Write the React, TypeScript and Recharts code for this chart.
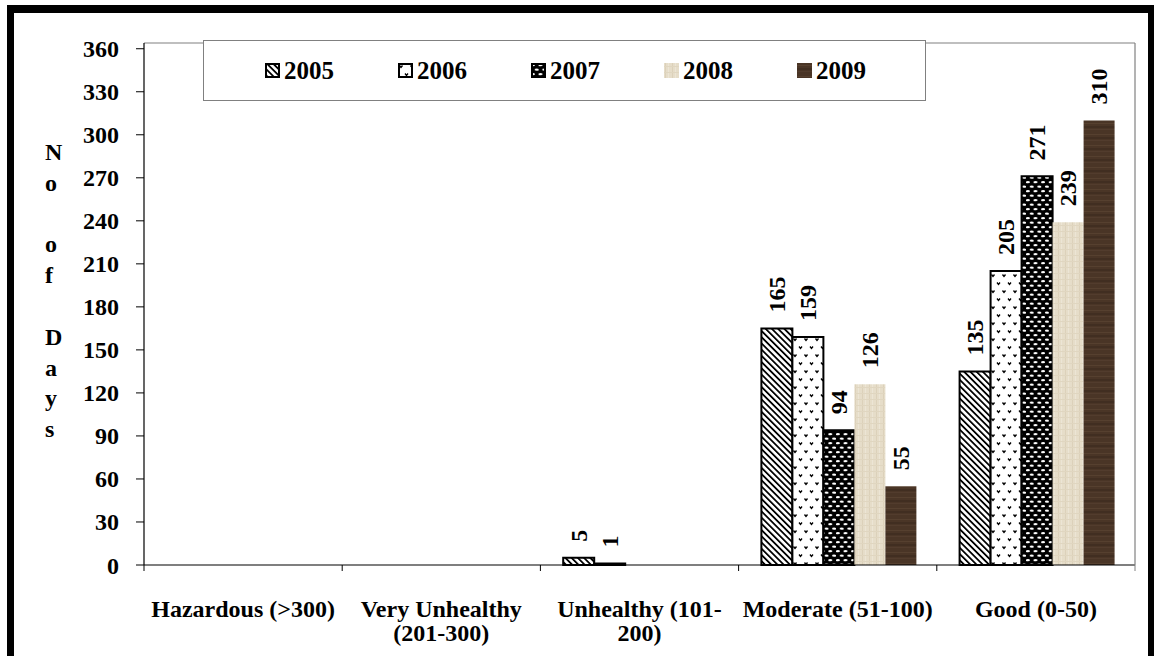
import React from 'react';
import { BarChart, Bar, XAxis, YAxis, LabelList } from 'recharts';

const categories = [
  'Hazardous (>300)',
  'Very Unhealthy\n(201-300)',
  'Unhealthy (101-\n200)',
  'Moderate (51-100)',
  'Good (0-50)',
];
const years = ['2005', '2006', '2007', '2008', '2009'];
const v2005 = [0, 0, 5, 165, 135];
const v2006 = [0, 0, 1, 159, 205];
const v2007 = [0, 0, 0, 94, 271];
const v2008 = [0, 0, 0, 126, 239];
const v2009 = [0, 0, 0, 55, 310];
const yTicks = [0, 30, 60, 90, 120, 150, 180, 210, 240, 270, 300, 330, 360];
const yLabelLetters = ['N', 'o', '', 'o', 'f', '', 'D', 'a', 'y', 's'];

const seriesValues = [v2005, v2006, v2007, v2008, v2009];
const data = categories.map((c, i) => {
  const row: Record<string, any> = { cat: c };
  years.forEach((y, k) => (row['y' + y] = seriesValues[k][i]));
  return row;
});

const W = 1154;
const H = 656;
const PLOT_LEFT = 144;
const PLOT_RIGHT = 1135;
const BAND = (PLOT_RIGHT - PLOT_LEFT) / categories.length;
const FONT = "'Liberation Serif', 'Times New Roman', serif";

const stroked: Record<string, boolean> = { '2005': true, '2006': true, '2007': true, '2008': false, '2009': false };

const Patterns = () => (
  <svg width={0} height={0} style={{ position: 'absolute' }}>
    <defs>
      <pattern id="p2005" width="4.4" height="4.4" patternUnits="userSpaceOnUse" patternTransform="rotate(-45)">
        <rect width="4.4" height="4.4" fill="#fff" />
        <rect width="1.8" height="4.4" fill="#000" />
      </pattern>
      <pattern id="p2006" width="11" height="16" patternUnits="userSpaceOnUse">
        <rect width="11" height="16" fill="#fff" />
        <path d="M1.5,2.5 L3,4.5 L4.5,2.5" stroke="#000" strokeWidth="1.3" fill="none" />
        <path d="M7,10.5 L8.5,12.5 L10,10.5" stroke="#000" strokeWidth="1.3" fill="none" />
      </pattern>
      <pattern id="p2007" width="7.6" height="9" patternUnits="userSpaceOnUse">
        <rect width="7.6" height="9" fill="#000" />
        <ellipse cx="1.9" cy="2.2" rx="2" ry="1.1" fill="#fff" />
        <ellipse cx="5.7" cy="6.7" rx="2" ry="1.1" fill="#fff" />
      </pattern>
      <pattern id="p2008" width="7" height="6" patternUnits="userSpaceOnUse">
        <rect width="7" height="6" fill="#e6ddc9" />
        <rect x="1" width="1" height="6" fill="#dcd1ba" />
        <rect x="4" width="1" height="6" fill="#ece5d5" />
        <rect y="3" width="7" height="1" fill="#e0d6c0" />
      </pattern>
      <pattern id="p2009" width="40" height="11" patternUnits="userSpaceOnUse">
        <rect width="40" height="11" fill="#4a3526" />
        <rect y="2" width="40" height="1" fill="#56402f" />
        <rect y="5" width="40" height="2" fill="#412e21" />
        <rect y="8" width="40" height="1" fill="#523c2d" />
      </pattern>
    </defs>
  </svg>
);

const RotLabel = (props: any) => {
  const { x, y, width, value } = props;
  if (!value) return null;
  const cx = Number(x) + Number(width) / 2;
  const ty = Number(y) - 16;
  return (
    <text
      x={cx}
      y={ty}
      dy="0.35em"
      transform={`rotate(-90 ${cx} ${ty})`}
      textAnchor="start"
      fontFamily={FONT}
      fontWeight="bold"
      fontSize={24}
      fill="#000"
    >
      {value}
    </text>
  );
};

const XTick = (props: any) => {
  const { x, y, payload, index } = props;
  const lines = String(payload.value).split('\n');
  const half = BAND / 2;
  return (
    <g>
      <line x1={x - half} x2={x - half} y1={y} y2={y + 6} stroke="#000" strokeWidth={1} />
      {index === categories.length - 1 && (
        <line x1={x + half} x2={x + half} y1={y} y2={y + 6} stroke="#808080" strokeWidth={1} />
      )}
      {lines.map((l, i) => (
        <text
          key={i}
          x={x}
          y={y + 52 + i * 24}
          textAnchor="middle"
          fontFamily={FONT}
          fontWeight="bold"
          fontSize={24}
          fill="#000"
        >
          {l}
        </text>
      ))}
    </g>
  );
};

export default function App() {
  return (
    <div style={{ position: 'absolute', left: 0, top: 0, width: W, height: H, overflow: 'hidden', background: '#fff' }}>
      <Patterns />
      <BarChart
        width={W}
        height={H}
        data={data}
        margin={{ top: 42, right: W - PLOT_RIGHT - 1, bottom: 0, left: 0 }}
        barCategoryGap="11.5%"
        barGap={0}
      >
        <XAxis
          dataKey="cat"
          height={H - 565}
          axisLine={{ stroke: '#000', strokeWidth: 1.2 }}
          tickLine={false}
          tickSize={0}
          tickMargin={0}
          interval={0}
          tick={<XTick />}
        />
        <XAxis xAxisId="top" dataKey="cat" orientation="top" height={1} tick={false} tickLine={false} axisLine={{ stroke: '#808080', strokeWidth: 1.2 }} />
        <YAxis
          width={PLOT_LEFT}
          domain={[0, 364]}
          ticks={yTicks}
          interval={0}
          tickSize={8}
          tickMargin={17}
          axisLine={{ stroke: '#000', strokeWidth: 1.2 }}
          tickLine={{ stroke: '#000' }}
          tick={{ fill: '#000', fontSize: 24, fontWeight: 'bold', fontFamily: FONT }}
        />
        <YAxis yAxisId="r" orientation="right" width={1} tick={false} tickLine={false} axisLine={{ stroke: '#808080', strokeWidth: 1.2 }} />
        {years.map((y) => (
          <Bar
            key={y}
            dataKey={'y' + y}
            name={y}
            fill={`url(#p${y})`}
            stroke={stroked[y] ? '#000' : 'none'}
            strokeWidth={stroked[y] ? 2 : 0}
            isAnimationActive={false}
          >
            <LabelList dataKey={'y' + y} content={<RotLabel />} />
          </Bar>
        ))}
      </BarChart>

      <div
        style={{
          position: 'absolute',
          left: 203,
          top: 40,
          width: 723,
          height: 61,
          border: '1px solid #808080',
          background: '#fff',
          boxSizing: 'border-box',
          display: 'flex',
          alignItems: 'center',
          paddingLeft: 61,
        }}
      >
        {years.map((y) => (
          <div key={y} style={{ width: 133, display: 'flex', alignItems: 'center', flex: 'none' }}>
            <svg width={15} height={15} style={{ display: 'block' }}>
              <rect
                x={stroked[y] ? 1 : 0}
                y={stroked[y] ? 1 : 0}
                width={stroked[y] ? 13 : 15}
                height={stroked[y] ? 13 : 15}
                fill={`url(#p${y})`}
                stroke={stroked[y] ? '#000' : 'none'}
                strokeWidth={2}
              />
            </svg>
            <span style={{ marginLeft: 4, fontFamily: FONT, fontWeight: 'bold', fontSize: 25, lineHeight: '25px', color: '#000' }}>{y}</span>
          </div>
        ))}
      </div>

      <svg width={W} height={H} style={{ position: 'absolute', left: 0, top: 0, pointerEvents: 'none' }}>
        {yLabelLetters.map((l, i) => (
          <text key={i} x={45} y={160 + i * 30.8} fontFamily={FONT} fontWeight="bold" fontSize={24} fill="#000">
            {l}
          </text>
        ))}
        <rect x={7} y={5} width={7} height={H} fill="#000" />
        <rect x={7} y={5} width={W - 7} height={8} fill="#000" />
        <rect x={1148} y={5} width={6} height={H} fill="#000" />
      </svg>
    </div>
  );
}
